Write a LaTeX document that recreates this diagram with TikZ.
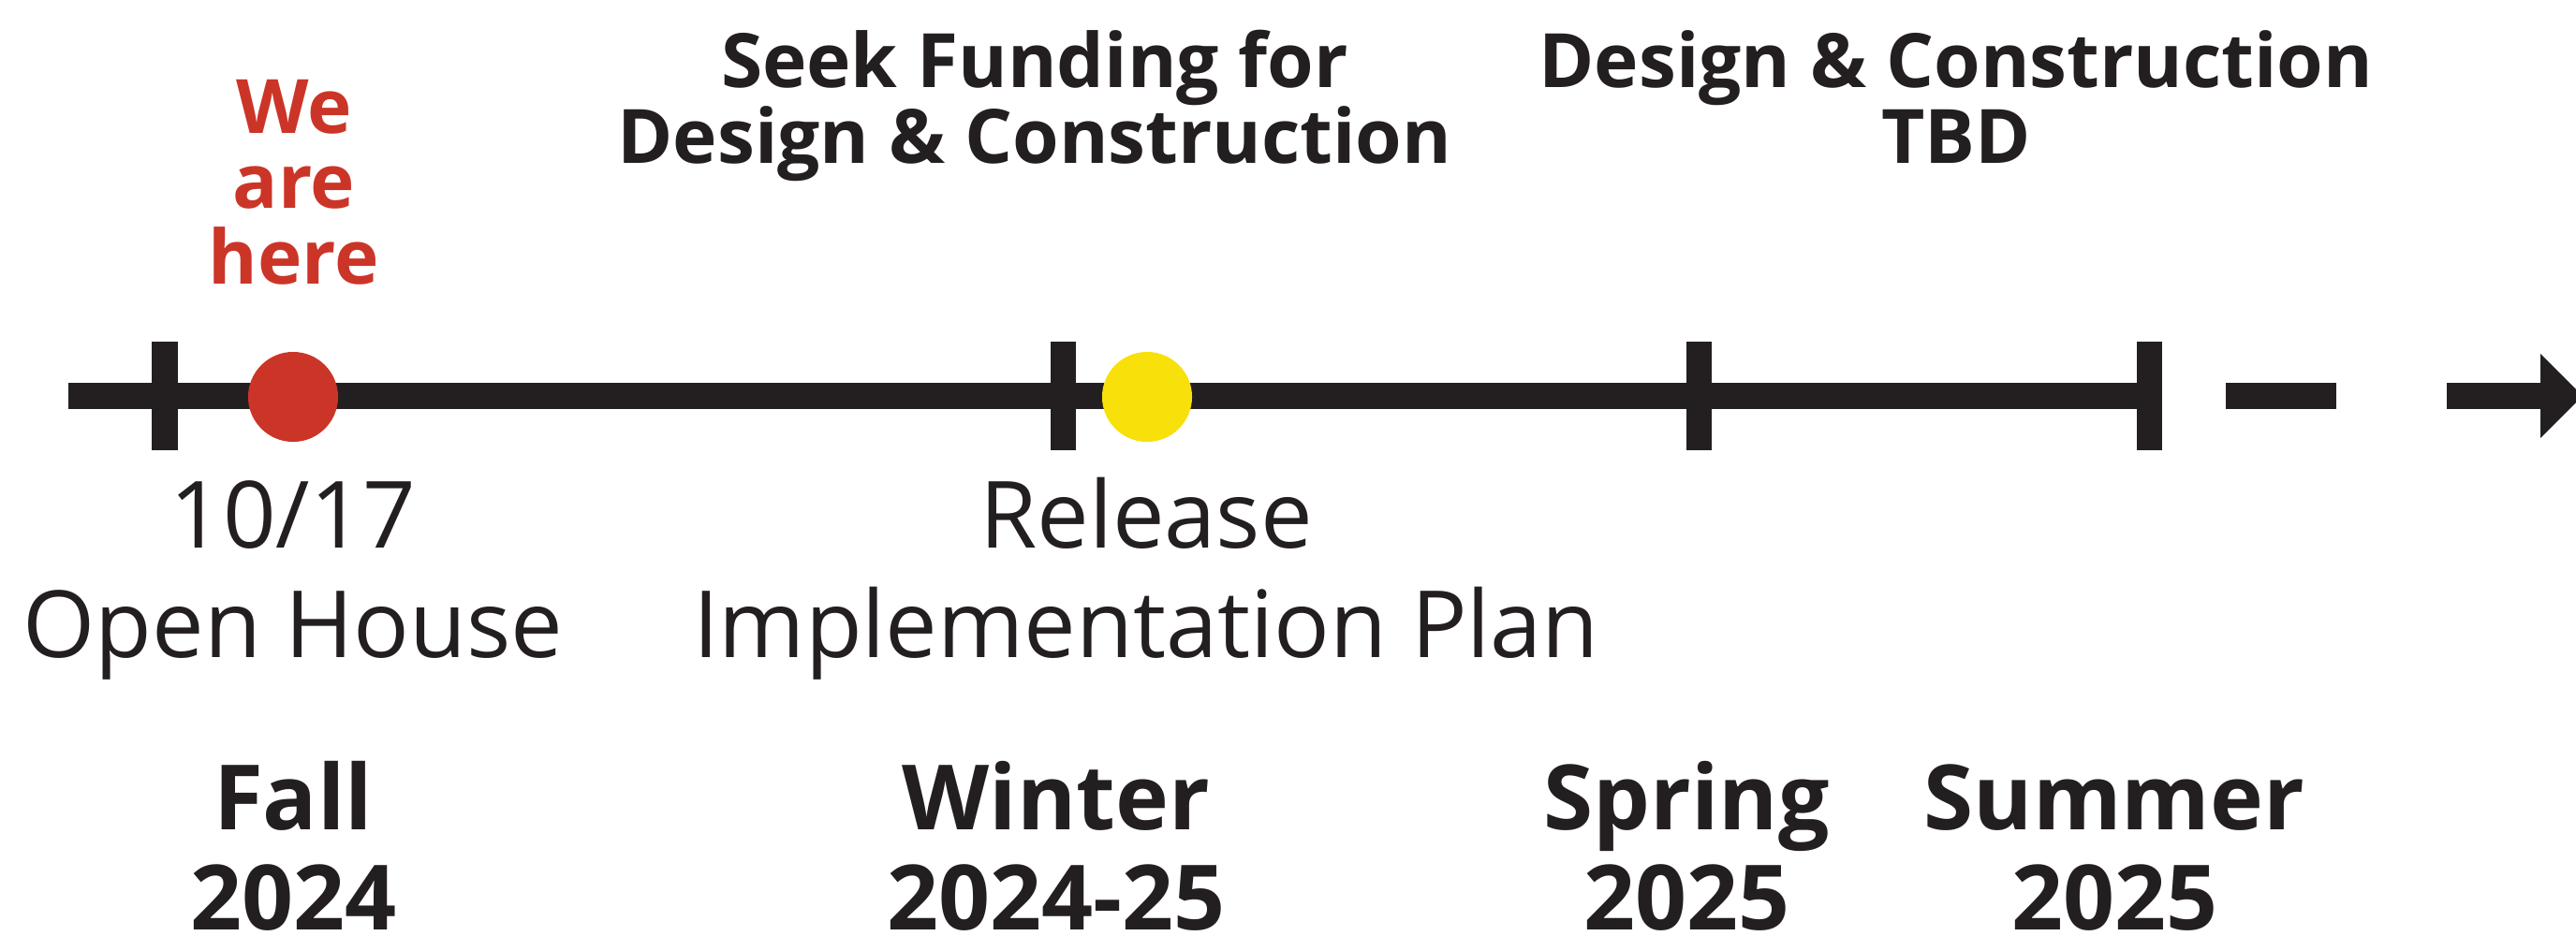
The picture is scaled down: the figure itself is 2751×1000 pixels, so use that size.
\documentclass[tikz,border=0pt]{standalone}
\usepackage{fontspec}
\setmainfont{Open Sans}
\usepackage{tikz}
\usetikzlibrary{shapes}

\definecolor{ink}{HTML}{231F20}
\definecolor{hereRed}{HTML}{CB3528}
\definecolor{planYellow}{HTML}{F8E00A}

\begin{document}
\begin{tikzpicture}[x=0.01cm,y=-0.01cm]
\tikzstyle{axis}=[line width=0.27cm,draw=ink]
\tikzstyle{tickmark}=[fill=ink,minimum width=0.27cm,minimum height=1.15cm,inner sep=0]
\tikzstyle{dot}=[circle,minimum size=0.96cm,inner sep=0]
\tikzstyle{event}=[align=center,anchor=base,inner sep=0,text=ink,
  font=\fontsize{28.2}{33}\selectfont]
\tikzstyle{plan}=[event,font=\bfseries\fontsize{22.8}{22.8}\selectfont]
\tikzstyle{season}=[event,font=\bfseries\fontsize{27.4}{30.2}\selectfont]
\useasboundingbox (0,0) rectangle (2751,1000);

% the time line, ticks at each season
\coordinate (start) at (73,423);
\node [tickmark] (tick1) at (176,423) {};
\node [tickmark] (tick2) at (1135,423) {};
\node [tickmark] (tick3) at (1814,423) {};
\node [tickmark] (tick4) at (2295,423) {};
\draw [axis] (start) -- (tick4.center);

% what comes after: one dash and an arrow
\coordinate (dashA) at (2377,423);
\coordinate (dashB) at (2495,423);
\coordinate (shaft) at (2613,423);
\coordinate (headbase) at (2714,423);
\draw [axis] (dashA) -- (dashB);
\draw [axis] (shaft) -- (headbase);
\fill [ink] (2713,378) -- (2758,423) -- (2713,468) -- cycle;

% milestones
\node [dot,fill=hereRed] (now) at (313,424) {};
\node [dot,fill=planYellow] (plan) at (1225,424) {};

\node [plan,text=hereRed] (we) at (314,303) {We\\are\\here};
\node [plan] (funding) at (1105,174) {Seek Funding for\\Design \& Construction};
\node [plan] (build) at (2089,174) {Design \& Construction\\TBD};

\node [event] (openhouse) at (313,702) {10/17\\Open House};
\node [event] (release) at (1224,702) {Release\\Implementation Plan};

\node [season] (fall) at (313,993) {Fall\\2024};
\node [season] (winter) at (1128,993) {Winter\\2024-25};
\node [season] (spring) at (1801,993) {Spring\\2025};
\node [season] (summer) at (2258,993) {Summer\\2025};
\end{tikzpicture}
\end{document}
